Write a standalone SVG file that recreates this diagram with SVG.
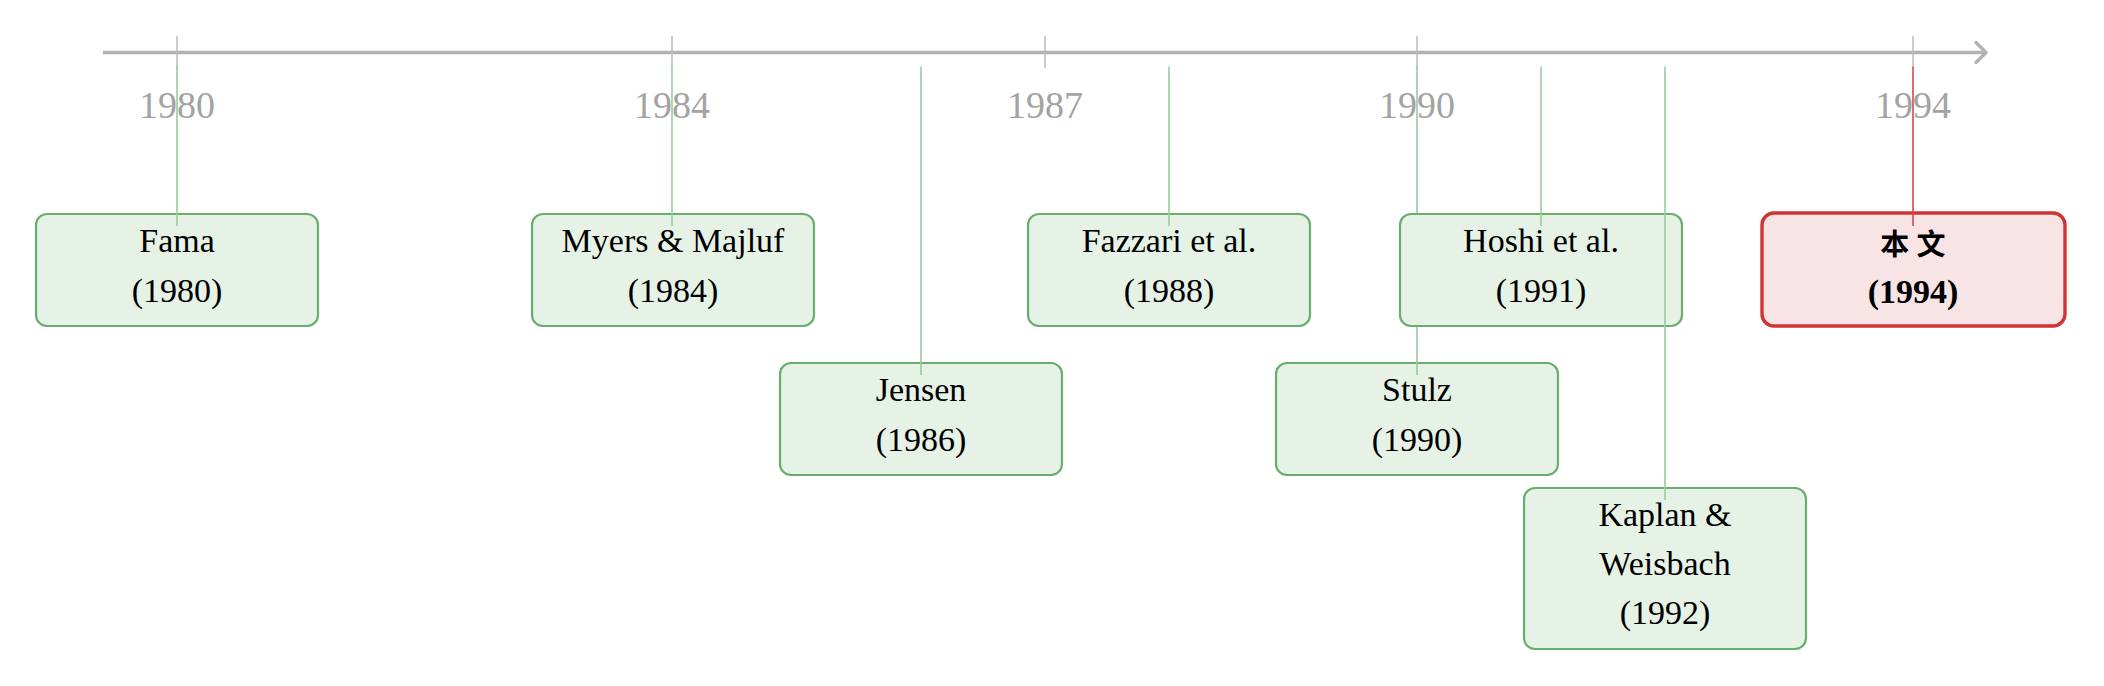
<svg xmlns="http://www.w3.org/2000/svg" width="2104" height="686" viewBox="0 0 2104 686">
<style>
.axis{stroke:#b3b3b3;stroke-width:3.5;fill:none}
.tick{stroke:#bdbdbd;stroke-width:1.6}
.yr{font-family:"Liberation Serif",serif;font-size:38px;fill:#a3a3a3;text-anchor:middle}
.box{fill:#e7f2e7;stroke:#6aae6e;stroke-width:2.2}
.hl{fill:#f8e4e5;stroke:#d03434;stroke-width:3.4}
.t{font-family:"Liberation Serif",serif;font-size:34px;fill:#000;text-anchor:middle}
.tb{font-family:"Liberation Serif",serif;font-size:34px;font-weight:bold;fill:#000;text-anchor:middle}
.cjk{font-family:"Liberation Serif","Noto Sans CJK SC",sans-serif;font-size:29px;font-weight:bold;fill:#000;text-anchor:middle}
.c{stroke:#98cc9f;stroke-width:1.6;fill:none}
.cr{stroke:#d9474a;stroke-width:1.6;fill:none}
</style>
<rect width="2104" height="686" fill="#fff"/>
<g id="axis">
<line class="axis" x1="103" y1="52.5" x2="1985" y2="52.5"/>
<polyline class="axis" points="1976,42.5 1986,52.5 1976,62.5" stroke-width="3" stroke-linecap="round" stroke-linejoin="round"/>
<line class="tick" x1="177" y1="36" x2="177" y2="68"/>
<line class="tick" x1="672" y1="36" x2="672" y2="68"/>
<line class="tick" x1="1045" y1="36" x2="1045" y2="68"/>
<line class="tick" x1="1417" y1="36" x2="1417" y2="68"/>
<line class="tick" x1="1913" y1="36" x2="1913" y2="68"/>
<text class="yr" x="177" y="118">1980</text>
<text class="yr" x="672" y="118">1984</text>
<text class="yr" x="1045" y="118">1987</text>
<text class="yr" x="1417" y="118">1990</text>
<text class="yr" x="1913" y="118">1994</text>
</g>
<g id="n-fama">
<rect class="box" x="36" y="214" width="282" height="112" rx="11"/>
<text class="t" x="177" y="252">Fama</text>
<text class="t" x="177" y="302">(1980)</text>
</g>
<g id="n-myers">
<rect class="box" x="532" y="214" width="282" height="112" rx="11"/>
<text class="t" x="673" y="252">Myers &amp; Majluf</text>
<text class="t" x="673" y="302">(1984)</text>
</g>
<g id="n-jensen">
<rect class="box" x="780" y="363" width="282" height="112" rx="11"/>
<text class="t" x="921" y="401">Jensen</text>
<text class="t" x="921" y="451">(1986)</text>
</g>
<g id="n-fazzari">
<rect class="box" x="1028" y="214" width="282" height="112" rx="11"/>
<text class="t" x="1169" y="252">Fazzari et al.</text>
<text class="t" x="1169" y="302">(1988)</text>
</g>
<g id="n-stulz">
<rect class="box" x="1276" y="363" width="282" height="112" rx="11"/>
<text class="t" x="1417" y="401">Stulz</text>
<text class="t" x="1417" y="451">(1990)</text>
</g>
<g id="n-hoshi">
<rect class="box" x="1400" y="214" width="282" height="112" rx="11"/>
<text class="t" x="1541" y="252">Hoshi et al.</text>
<text class="t" x="1541" y="302">(1991)</text>
</g>
<g id="n-kaplan">
<rect class="box" x="1524" y="488" width="282" height="161" rx="11"/>
<text class="t" x="1665" y="526">Kaplan &amp;</text>
<text class="t" x="1665" y="575">Weisbach</text>
<text class="t" x="1665" y="624">(1992)</text>
</g>
<g id="n-this">
<rect class="hl" x="1762" y="213" width="303" height="113" rx="12"/>
<text class="cjk" x="1913" y="255">本 文</text>
<text class="tb" x="1913" y="303">(1994)</text>
</g>
<g id="connectors">
<line class="c" x1="177" y1="66.7" x2="177" y2="226"/>
<line class="c" x1="672" y1="66.7" x2="672" y2="226"/>
<line class="c" x1="921" y1="66.7" x2="921" y2="375"/>
<line class="c" x1="1169" y1="66.7" x2="1169" y2="226"/>
<line class="c" x1="1417" y1="66.7" x2="1417" y2="213"/>
<line class="c" x1="1417" y1="327" x2="1417" y2="375"/>
<line class="c" x1="1541" y1="66.7" x2="1541" y2="226"/>
<line class="c" x1="1665" y1="66.7" x2="1665" y2="500"/>
<line class="cr" x1="1913" y1="66.7" x2="1913" y2="226"/>
</g>
</svg>
